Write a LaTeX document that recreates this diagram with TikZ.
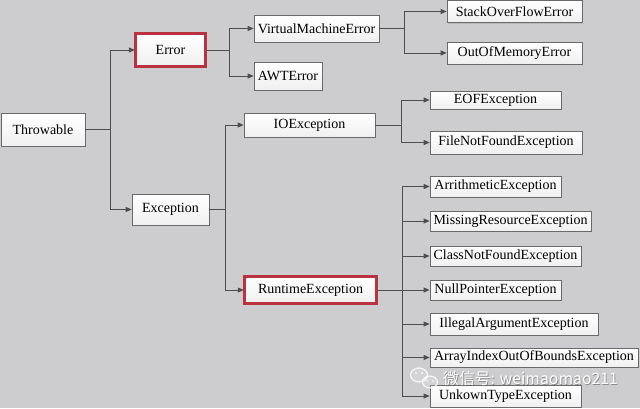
\documentclass[tikz,border=0pt]{standalone}
\usepackage{fontspec}
\setmainfont{Liberation Serif}
\newfontfamily\cjkfont{Noto Sans CJK SC}
\usetikzlibrary{shadows,arrows.meta}
\definecolor{bgc}{HTML}{CDCDCF}
\definecolor{linec}{HTML}{4E4E4E}
\definecolor{boxc}{HTML}{6A6A6A}
\definecolor{redc}{HTML}{B8323F}
\tikzset{
  box/.style={draw=boxc, line width=0.7pt, top color=white, bottom color=gray!12,
    drop shadow={shadow xshift=1.2pt, shadow yshift=-1.2pt, opacity=0.25},
    inner sep=0pt, font=\fontsize{14}{15}\selectfont, text=black, anchor=center},
  redbox/.style={box, draw=redc, line width=2.2pt},
  redframe/.style={draw=redc, line width=2.2pt},
  conn/.style={draw=linec, line width=0.9pt, -{Triangle[length=6pt,width=5pt]}},
  seg/.style={draw=linec, line width=0.9pt}
}
\newcommand{\bx}[6][box]{\node[#1, minimum width=#4pt, minimum height=#5pt] (#2) at (#3) {#6};}
\begin{document}
\begin{tikzpicture}[x=1pt,y=-1pt]
\fill[bgc] (0,0) rectangle (640,408);
\useasboundingbox (0,0) rectangle (640,408);
% nodes
\bx{thr}{43,129.5}{84}{33}{Throwable}
\bx[redbox]{err}{170.5,50}{69}{32}{Error}
\bx{exc}{170.5,209.5}{77}{31}{Exception}
\bx{vme}{316.5,28.5}{125}{27}{VirtualMachineError}
\bx{awt}{288,76}{68}{28}{AWTError}
\bx{ioe}{309.5,125}{131}{24}{IOException}
\bx[redbox]{rte}{310.5,290}{131}{26}{RuntimeException}
\bx{sof}{514.5,11.5}{135}{22}{StackOverFlowError}
\bx{oom}{514.5,53}{135}{22}{OutOfMemoryError}
\bx{eof}{495.5,100}{131}{18}{EOFException}
\bx{fnf}{506,142.5}{152}{23}{FileNotFoundException}
\bx{ari}{495.5,186.5}{131}{21}{ArrithmeticException}
\bx{mre}{510.5,221}{161}{20}{MissingResourceException}
\bx{cnf}{505.5,256}{151}{20}{ClassNotFoundException}
\bx{npe}{495.5,290}{131}{20}{NullPointerException}
\bx{iae}{514,324}{168}{22}{IllegalArgumentException}
\bx{aio}{534,357.5}{208}{19}{ArrayIndexOutOfBoundsException}
\bx{ute}{505.5,396}{151}{22}{UnkownTypeException}
% branch points
\coordinate (b1) at (110,129.5);
\coordinate (b2) at (229,50);
\coordinate (b3) at (404,28.5);
\coordinate (b4) at (225,209.5);
\coordinate (b5) at (401,125);
\coordinate (b6) at (402,290);
% connectors
\draw[seg] (thr.east) -- (b1);
\draw[conn] (b1) |- (err.west);
\draw[conn] (b1) |- (exc.west);
\draw[seg] (err.east) -- (b2);
\draw[conn] (b2) |- (vme.west);
\draw[conn] (b2) |- (awt.west);
\draw[seg] (vme.east) -- (b3);
\draw[conn] (b3) |- (sof.west);
\draw[conn] (b3) |- (oom.west);
\draw[seg] (exc.east) -- (b4);
\draw[conn] (b4) |- (ioe.west);
\draw[conn] (b4) |- (rte.west);
\draw[seg] (ioe.east) -- (b5);
\draw[conn] (b5) |- (eof.west);
\draw[conn] (b5) |- (fnf.west);
\draw[seg] (rte.east) -- (b6);
\draw[conn] (b6) |- (ari.west);
\draw[conn] (b6) |- (mre.west);
\draw[conn] (b6) |- (cnf.west);
\draw[conn] (b6) -- (npe.west);
\draw[conn] (b6) |- (iae.west);
\draw[conn] (b6) |- (aio.west);
\draw[conn] (b6) |- (ute.west);
% red frames drawn again on top
\draw[redframe] (err.south west) rectangle (err.north east);
\draw[redframe] (rte.south west) rectangle (rte.north east);
% watermark
\begin{scope}[draw=white, line width=1.2pt, opacity=0.85]
  \draw[fill=white, fill opacity=0.15] (419,375) ellipse (8.5pt and 7pt);
  \draw[fill=white, fill opacity=0.15] (430,382) ellipse (7.5pt and 6pt);
  \fill[white] (416,373) circle (1.1pt) (422,373) circle (1.1pt);
  \fill[white] (427,381) circle (1pt) (433,381) circle (1pt);
\end{scope}
\node[anchor=west, inner sep=0pt, text=gray!60!black, opacity=0.5, font=\cjkfont\fontsize{15.8}{18}\selectfont] at (443.8,379.8) {微信号: weimaomao211};
\node[anchor=west, inner sep=0pt, text=white, font=\cjkfont\fontsize{15.8}{18}\selectfont] (wm) at (443,379) {微信号: weimaomao211};
\end{tikzpicture}
\end{document}
